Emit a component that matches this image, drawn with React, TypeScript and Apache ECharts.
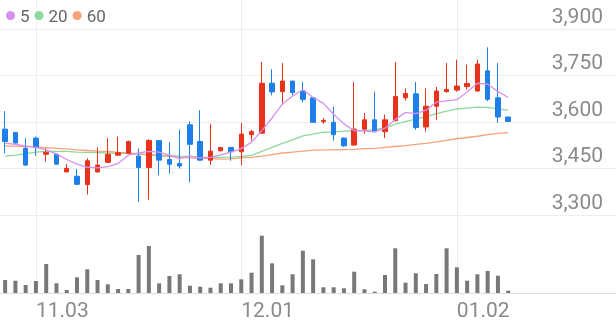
import React, { useEffect, useRef } from "react";
import * as echarts from "echarts";

const DATES = [
  "10.31", "11.01", "11.02", "11.03", "11.04", "11.07", "11.08", "11.09", "11.10", "11.11",
  "11.14", "11.15", "11.16", "11.17", "11.18", "11.21", "11.22", "11.23", "11.24", "11.25",
  "11.28", "11.29", "11.30", "12.01", "12.02", "12.05", "12.06", "12.07", "12.08", "12.09",
  "12.12", "12.13", "12.14", "12.15", "12.16", "12.19", "12.20", "12.21", "12.22", "12.23",
  "12.26", "12.27", "12.28", "12.29", "01.02", "01.03", "01.04", "01.05", "01.06", "01.09",
];
const PAD_COUNT = 10;
const LABEL_DATES = ["11.03", "12.01", "01.02"];

const OPEN = [
  3577, 3566, 3515, 3548, 3496, 3496, 3439, 3425, 3398, 3439,
  3470, 3493, 3499, 3490, 3453, 3540, 3479, 3466, 3591, 3537,
  3477, 3507, 3518, 3504, 3559, 3564, 3725, 3698, 3732, 3700,
  3678, 3601, 3599, 3548, 3526, 3577, 3607, 3569, 3604, 3678,
  3691, 3584, 3651, 3698, 3703, 3714, 3700, 3765, 3678, 3616,
];
const CLOSE = [
  3537, 3532, 3461, 3518, 3502, 3464, 3450, 3399, 3475, 3461,
  3496, 3501, 3537, 3453, 3540, 3477, 3464, 3458, 3528, 3477,
  3506, 3518, 3504, 3561, 3569, 3725, 3697, 3732, 3695, 3673,
  3599, 3605, 3559, 3523, 3577, 3607, 3569, 3607, 3682, 3692,
  3582, 3651, 3700, 3705, 3716, 3724, 3787, 3673, 3616, 3602,
];
const LOW = [
  3499, 3530, 3458, 3491, 3472, 3462, 3438, 3397, 3366, 3437,
  3468, 3491, 3497, 3343, 3349, 3428, 3434, 3450, 3406, 3475,
  3461, 3506, 3475, 3461, 3540, 3562, 3686, 3656, 3686, 3664,
  3597, 3594, 3540, 3520, 3523, 3562, 3567, 3548, 3602, 3669,
  3575, 3569, 3607, 3695, 3698, 3705, 3698, 3667, 3597, 3601,
];
const HIGH = [
  3635, 3568, 3548, 3553, 3515, 3497, 3464, 3448, 3483, 3518,
  3548, 3553, 3540, 3515, 3545, 3541, 3535, 3575, 3602, 3638,
  3594, 3519, 3519, 3597, 3575, 3794, 3770, 3790, 3733, 3729,
  3679, 3613, 3649, 3550, 3729, 3629, 3698, 3624, 3794, 3708,
  3729, 3709, 3713, 3790, 3801, 3785, 3801, 3841, 3790, 3617,
];
const VOLUME = [
  130000, 123000, 80000, 120000, 290000, 97000, 30000, 157000, 237000, 130000,
  87000, 40000, 40000, 380000, 470000, 97000, 170000, 187000, 73000, 63000,
  53000, 97000, 97000, 137000, 203000, 573000, 297000, 77000, 187000, 423000,
  337000, 57000, 57000, 47000, 213000, 37000, 13000, 180000, 447000, 103000,
  197000, 90000, 190000, 447000, 257000, 123000, 187000, 220000, 173000, 23000,
];
const MA5 = [
  3532, 3528, 3523, 3518, 3510, 3497, 3479, 3464, 3454, 3452,
  3456, 3466, 3493, 3500, 3505, 3503, 3493, 3482, 3490, 3484,
  3486, 3494, 3503, 3514, 3535, 3572, 3613, 3658, 3684, 3704,
  3679, 3660, 3625, 3594, 3572, 3571, 3568, 3580, 3608, 3631,
  3627, 3638, 3664, 3668, 3672, 3697, 3725, 3722, 3698, 3679,
];
const MA20 = [
  3490, 3493, 3498, 3503, 3505, 3505, 3505, 3503, 3502, 3501,
  3500, 3499, 3498, 3497, 3495, 3493, 3492, 3490, 3489, 3487,
  3486, 3486, 3487, 3489, 3492, 3505, 3518, 3531, 3542, 3555,
  3561, 3567, 3568, 3570, 3572, 3573, 3575, 3581, 3593, 3601,
  3609, 3617, 3627, 3635, 3642, 3645, 3648, 3647, 3642, 3638,
];
const MA60 = [
  3523, 3522, 3521, 3519, 3517, 3515, 3513, 3510, 3508, 3506,
  3505, 3502, 3500, 3497, 3493, 3491, 3489, 3486, 3484, 3483,
  3482, 3480, 3481, 3484, 3486, 3490, 3495, 3500, 3503, 3506,
  3509, 3510, 3510, 3511, 3512, 3514, 3515, 3518, 3521, 3524,
  3528, 3531, 3536, 3541, 3546, 3550, 3554, 3559, 3563, 3566,
];

const Y_MIN = 3300;
const Y_MAX = 3900;
const Y_STEP = 150;
const VOL_MAX = 2930000;

const UP = "#e8321a";
const DOWN = "#1f7fe8";
const C5 = "#d690ef";
const C20 = "#8ed99d";
const C60 = "#f7a27b";
const FONT = "Roboto";

export default function App() {
  const ref = useRef<HTMLDivElement>(null);

  useEffect(() => {
    const chart = echarts.init(ref.current as HTMLDivElement, null, { renderer: "svg" });
    const pads: string[] = [];
    for (let i = 0; i < PAD_COUNT; i++) pads.push(" ".repeat(i + 1));
    const cats = DATES.concat(pads);
    const showDate = (_i: number, v: string) => LABEL_DATES.indexOf(v) >= 0;

    chart.setOption({
      animation: false,
      textStyle: { fontFamily: FONT },
      legend: {
        left: 1,
        top: 2,
        icon: "circle",
        itemWidth: 9,
        itemHeight: 9,
        itemGap: 5,
        data: ["5", "20", "60"],
        textStyle: { fontSize: 17, color: "#666666", fontFamily: FONT },
      },
      grid: [
        { left: 0, right: 0, top: 29, height: 186 },
        { left: 0, right: 0, top: 0, bottom: 28 },
      ],
      xAxis: [
        {
          type: "category",
          gridIndex: 0,
          data: cats,
          boundaryGap: true,
          axisLine: { show: false },
          axisTick: { show: false },
          axisLabel: { show: false },
          splitLine: { show: false },
        },
        {
          type: "category",
          gridIndex: 1,
          data: cats,
          boundaryGap: true,
          axisLine: { show: true, lineStyle: { color: "#dddddd", width: 1 } },
          axisTick: { show: false },
          axisLabel: {
            interval: showDate,
            align: "left",
            fontSize: 21,
            color: "#8a8a8a",
            margin: 6,
            fontFamily: FONT,
          },
          splitLine: {
            show: true,
            interval: showDate,
            alignWithLabel: true,
            lineStyle: { color: "#eeeeee", width: 1 },
          },
        },
      ],
      yAxis: [
        {
          type: "value",
          gridIndex: 0,
          position: "right",
          min: Y_MIN,
          max: Y_MAX,
          interval: Y_STEP,
          axisLine: { show: false },
          axisTick: { show: false },
          axisLabel: {
            inside: true,
            margin: 13,
            fontSize: 21,
            color: "#8a8a8a",
            verticalAlign: "bottom",
            lineHeight: 21,
            padding: [0, 0, 3, 0],
            fontFamily: FONT,
            formatter: (v: number) => v.toLocaleString("en-US"),
          },
          splitLine: { show: true, lineStyle: { color: "#eeeeee", width: 1 } },
        },
        { type: "value", gridIndex: 1, min: 0, max: VOL_MAX, show: false },
      ],
      series: [
        {
          name: "candle",
          type: "candlestick",
          xAxisIndex: 0,
          yAxisIndex: 0,
          barWidth: 5,
          data: OPEN.map((o, i) => [o, CLOSE[i], LOW[i], HIGH[i]]),
          itemStyle: {
            color: UP,
            color0: DOWN,
            borderColor: UP,
            borderColor0: DOWN,
            borderWidth: 1,
          },
          z: 3,
        },
        {
          name: "5",
          type: "line",
          xAxisIndex: 0,
          yAxisIndex: 0,
          data: MA5,
          symbol: "none",
          color: C5,
          lineStyle: { color: C5, width: 1.3 },
          z: 4,
        },
        {
          name: "20",
          type: "line",
          xAxisIndex: 0,
          yAxisIndex: 0,
          data: MA20,
          symbol: "none",
          color: C20,
          lineStyle: { color: C20, width: 1.3 },
          z: 2,
        },
        {
          name: "60",
          type: "line",
          xAxisIndex: 0,
          yAxisIndex: 0,
          data: MA60,
          symbol: "none",
          color: C60,
          lineStyle: { color: C60, width: 1.3 },
          z: 2,
        },
        {
          name: "volume",
          type: "bar",
          xAxisIndex: 1,
          yAxisIndex: 1,
          data: VOLUME,
          barWidth: 4,
          itemStyle: { color: "#787878" },
        },
      ],
    });
    return () => chart.dispose();
  }, []);

  return (
    <div
      ref={ref}
      style={{ position: "fixed", left: 0, top: 0, width: 616, height: 321 }}
    />
  );
}
